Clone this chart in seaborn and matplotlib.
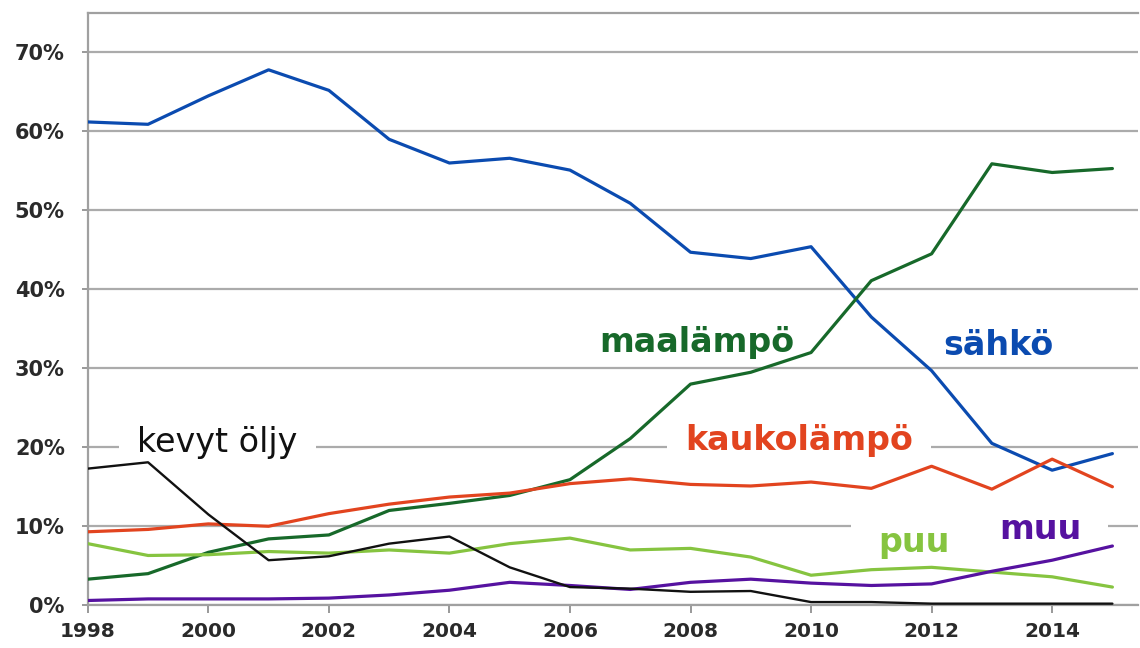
import pandas as pd
import seaborn as sns
import matplotlib.pyplot as plt
from matplotlib.ticker import PercentFormatter

# Heating system shares of new detached houses
years = list(range(1998, 2016))

sahko = [61.2, 60.9, 64.5, 67.8, 65.2, 59.0, 56.0, 56.6, 55.1, 50.9,
         44.7, 43.9, 45.4, 36.5, 29.7, 20.5, 17.1, 19.2]
maalampo = [3.3, 4.0, 6.7, 8.4, 8.9, 12.0, 12.9, 13.9, 15.9, 21.1,
            28.0, 29.5, 32.0, 41.1, 44.5, 55.9, 54.8, 55.3]
kaukolampo = [9.3, 9.6, 10.3, 10.0, 11.6, 12.8, 13.7, 14.2, 15.4, 16.0,
              15.3, 15.1, 15.6, 14.8, 17.6, 14.7, 18.5, 15.0]
puu = [7.8, 6.3, 6.4, 6.8, 6.6, 7.0, 6.6, 7.8, 8.5, 7.0,
       7.2, 6.1, 3.8, 4.5, 4.8, 4.2, 3.6, 2.3]
muu = [0.6, 0.8, 0.8, 0.8, 0.9, 1.3, 1.9, 2.9, 2.5, 2.0,
       2.9, 3.3, 2.8, 2.5, 2.7, 4.3, 5.7, 7.5]
kevyt_oljy = [17.3, 18.1, 11.5, 5.7, 6.2, 7.8, 8.7, 4.8, 2.3, 2.1,
              1.7, 1.8, 0.4, 0.4, 0.2, 0.2, 0.2, 0.2]

series_names = ["sähkö", "maalämpö", "kaukolämpö", "puu", "muu", "kevyt öljy"]
series_values = [sahko, maalampo, kaukolampo, puu, muu, kevyt_oljy]
colors = {
    "sähkö": "#0b4bb0",
    "maalämpö": "#17692a",
    "kaukolämpö": "#e2441f",
    "puu": "#86c440",
    "muu": "#5612a0",
    "kevyt öljy": "#111111",
}

# label text, x (year), y (share), weight, white box pad (None = no box)
labels = [
    ("maalämpö", 2008.1, 33.3, "bold", None),
    ("sähkö", 2013.1, 32.9, "bold", None),
    ("kaukolämpö", 2009.8, 20.9, "bold", 0.55),
    ("kevyt öljy", 2000.15, 20.6, "normal", 0.55),
    ("puu", 2011.7, 8.0, "bold", 0.8),
    ("muu", 2013.8, 9.6, "bold", 0.8),
]

rows = []
for name, vals in zip(series_names, series_values):
    for y, v in zip(years, vals):
        rows.append({"year": y, "share": v / 100, "series": name})
df = pd.DataFrame(rows)

sns.set_style("white")
plt.rcParams["font.family"] = ["DejaVu Sans"]

fig, ax = plt.subplots(figsize=(11.4, 6.48), dpi=100)
fig.subplots_adjust(left=0.077, right=0.998, bottom=0.066, top=0.98)

ax.yaxis.grid(True, color="#ababab", linewidth=1.6, zorder=0)
ax.set_axisbelow(True)

sns.lineplot(data=df[df["series"] != "kevyt öljy"], x="year", y="share",
             hue="series", palette=colors, linewidth=2.3, legend=False,
             ax=ax, zorder=4)
sns.lineplot(data=df[df["series"] == "kevyt öljy"], x="year", y="share",
             color=colors["kevyt öljy"], linewidth=1.7, legend=False,
             ax=ax, zorder=4)

for text, x, y, weight, pad in labels:
    kw = {}
    if pad is not None:
        kw["bbox"] = dict(boxstyle=f"square,pad={pad}", fc="white", ec="none")
    ax.text(x, y / 100, text, color=colors[text], fontsize=24,
            fontweight=weight, ha="center", va="center", zorder=3, **kw)

ax.set_xlim(1998, 2015.42)
ax.set_ylim(0, 0.75)
ax.set_xticks(range(1998, 2015, 2))
ax.set_yticks([i / 10 for i in range(8)])
ax.yaxis.set_major_formatter(PercentFormatter(1.0, decimals=0))
ax.set_xlabel("")
ax.set_ylabel("")

ax.tick_params(axis="y", left=True, length=4.5, width=1.4, color="#999999",
               pad=12, labelsize=15, labelcolor="#2a2a2a")
ax.tick_params(axis="x", bottom=True, length=6, width=1.4, color="#999999",
               pad=6, labelsize=14.5, labelcolor="#2a2a2a")
for lab in ax.get_xticklabels() + ax.get_yticklabels():
    lab.set_fontweight("bold")

for side in ["left", "bottom", "top"]:
    ax.spines[side].set_color("#a0a0a0")
    ax.spines[side].set_linewidth(1.6)
ax.spines["right"].set_visible(False)

plt.savefig("out.png", dpi=100)
